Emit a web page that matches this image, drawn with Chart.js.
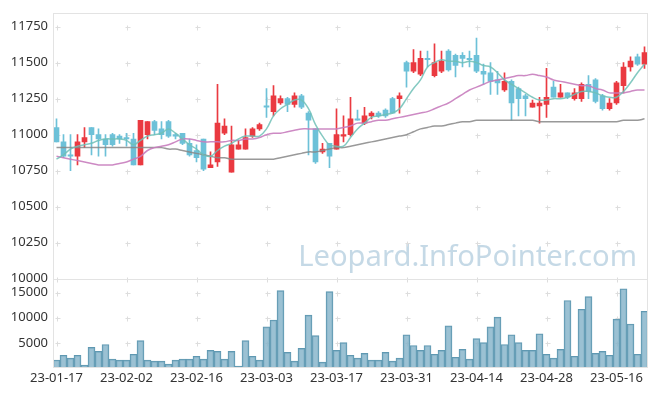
<!DOCTYPE html>
<html>
<head>
<meta charset="utf-8">
<script src="https://cdn.jsdelivr.net/npm/chart.js@4.4.0/dist/chart.umd.min.js"></script>
<style>
	html, body { margin: 0; padding: 0; background: #ffffff; }
</style>
</head>
<body>
<canvas id="chart" width="657" height="396"></canvas>
<script>
const dates = [
	"23-01-17", "23-01-18", "23-01-19", "23-01-20", "23-01-25", "23-01-26", "23-01-27", "23-01-30", "23-01-31", "23-02-01",
	"23-02-02", "23-02-03", "23-02-06", "23-02-07", "23-02-08", "23-02-09", "23-02-10", "23-02-13", "23-02-14", "23-02-15",
	"23-02-16", "23-02-17", "23-02-20", "23-02-21", "23-02-22", "23-02-23", "23-02-24", "23-02-27", "23-02-28", "23-03-02",
	"23-03-03", "23-03-06", "23-03-07", "23-03-08", "23-03-09", "23-03-10", "23-03-13", "23-03-14", "23-03-15", "23-03-16",
	"23-03-17", "23-03-20", "23-03-21", "23-03-22", "23-03-23", "23-03-24", "23-03-27", "23-03-28", "23-03-29", "23-03-30",
	"23-03-31", "23-04-03", "23-04-04", "23-04-05", "23-04-06", "23-04-07", "23-04-10", "23-04-11", "23-04-12", "23-04-13",
	"23-04-14", "23-04-17", "23-04-18", "23-04-19", "23-04-20", "23-04-21", "23-04-24", "23-04-25", "23-04-26", "23-04-27",
	"23-04-28", "23-05-02", "23-05-03", "23-05-04", "23-05-08", "23-05-09", "23-05-10", "23-05-11", "23-05-12", "23-05-15",
	"23-05-16", "23-05-17", "23-05-18", "23-05-19", "23-05-22"
];

const opens = [
	11050, 10950, 10860, 10850, 10950, 11050, 11000, 10970, 11000, 10990,
	10980, 10970, 10790, 11000, 11090, 11040, 11090, 11000, 11010, 10940,
	10890, 10970, 10770, 10810, 11010, 10740, 10900, 10900, 10990, 11040,
	11200, 11160, 11220, 11250, 11210, 11270, 11150, 11040, 10880, 10940,
	10900, 10990, 11000, 11110, 11080, 11130, 11150, 11170, 11250, 11250,
	11500, 11440, 11420, 11530, 11410, 11440, 11580, 11550, 11550, 11530,
	11550, 11440, 11430, 11380, 11310, 11370, 11320, 11270, 11190, 11200,
	11210, 11330, 11260, 11290, 11250, 11250, 11350, 11380, 11270, 11180,
	11220, 11340, 11470, 11540, 11490
];
const highs = [
	11110, 11000, 11000, 11000, 11050, 11050, 11040, 11000, 11010, 11000,
	11010, 11010, 11100, 11090, 11100, 11090, 11100, 11010, 11010, 10970,
	10930, 10970, 10880, 11350, 11110, 11060, 10960, 11040, 11050, 11080,
	11320, 11340, 11270, 11260, 11290, 11280, 11160, 11040, 10940, 10940,
	11180, 11130, 11260, 11170, 11190, 11160, 11160, 11180, 11260, 11290,
	11510, 11590, 11580, 11580, 11630, 11580, 11590, 11560, 11570, 11580,
	11670, 11490, 11500, 11440, 11430, 11380, 11330, 11280, 11240, 11260,
	11460, 11370, 11350, 11290, 11320, 11360, 11410, 11390, 11280, 11250,
	11370, 11500, 11540, 11560, 11610
];
const lows = [
	10950, 10840, 10750, 10790, 10910, 10860, 10850, 10850, 10920, 10940,
	10920, 10790, 10790, 10970, 11000, 10970, 10980, 10970, 10930, 10850,
	10810, 10750, 10770, 10780, 11000, 10740, 10900, 10900, 10980, 11030,
	11120, 11130, 11210, 11160, 11190, 11180, 10860, 10800, 10870, 10770,
	10900, 10950, 10990, 11100, 11070, 11110, 11120, 11120, 11150, 11150,
	11330, 11430, 11410, 11470, 11400, 11430, 11440, 11400, 11470, 11470,
	11430, 11350, 11280, 11280, 11300, 11100, 11130, 11130, 11190, 11080,
	11120, 11260, 11260, 11250, 11240, 11230, 11250, 11220, 11170, 11170,
	11210, 11290, 11440, 11480, 11460
];
const closes = [
	10950, 10850, 10850, 10950, 10980, 11000, 10970, 10930, 10930, 10970,
	10970, 10790, 11100, 11090, 11030, 11000, 10990, 10990, 10940, 10860,
	10840, 10760, 10790, 11080, 11060, 10930, 10930, 10980, 11040, 11070,
	11190, 11270, 11250, 11210, 11270, 11190, 11100, 10810, 10900, 10850,
	11000, 11000, 11110, 11100, 11130, 11150, 11130, 11130, 11150, 11270,
	11440, 11500, 11530, 11520, 11500, 11510, 11450, 11480, 11530, 11520,
	11440, 11420, 11370, 11360, 11370, 11220, 11250, 11250, 11220, 11220,
	11260, 11260, 11290, 11260, 11290, 11350, 11300, 11230, 11180, 11220,
	11360, 11470, 11510, 11490, 11570
];
const volumes = [
	1600, 2530, 1950, 2530, 580, 4090, 3310, 4670, 1750, 1560,
	1560, 2730, 5450, 1560, 1360, 1360, 780, 1560, 1750, 1750,
	2340, 1750, 3500, 3310, 1750, 3310, 390, 5450, 2340, 1560,
	8180, 9540, 15380, 3120, 1360, 3900, 10510, 6430, 1170, 15190,
	3500, 5060, 2530, 1950, 2920, 1560, 1560, 3120, 1360, 1950,
	6620, 4480, 3500, 4480, 2730, 3500, 8370, 2140, 3700, 1750,
	5840, 5060, 8180, 10120, 4670, 6620, 5060, 3500, 3500, 6810,
	2730, 1950, 3700, 13430, 2340, 11680, 14210, 2920, 3310, 2530,
	9730, 15770, 8760, 2730, 11290
];
// moving average lines
const ma5 = [
	10830, 10860, 10900, 10920, 10930, 10940, 10960, 10970, 10970, 10970,
	10960, 10930, 10960, 10990, 11000, 11010, 11040, 11010, 10970, 10930,
	10900, 10860, 10850, 10890, 10920, 10940, 10970, 10990, 10990, 10990,
	11040, 11130, 11180, 11210, 11240, 11240, 11180, 11070, 10990, 10930,
	10920, 10920, 10980, 11040, 11080, 11120, 11130, 11140, 11150, 11180,
	11250, 11320, 11380, 11470, 11500, 11520, 11510, 11510, 11500, 11510,
	11500, 11480, 11470, 11430, 11380, 11350, 11320, 11290, 11260, 11240,
	11240, 11250, 11250, 11260, 11280, 11300, 11300, 11290, 11270, 11260,
	11260, 11300, 11360, 11430, 11490
];
const ma20 = [
	10850, 10840, 10830, 10820, 10810, 10800, 10790, 10790, 10790, 10800,
	10810, 10830, 10850, 10890, 10910, 10920, 10930, 10950, 10970, 10970,
	10960, 10950, 10950, 10950, 10950, 10960, 10960, 10970, 10970, 10980,
	11000, 11010, 11010, 11020, 11030, 11040, 11040, 11040, 11040, 11040,
	11040, 11050, 11060, 11080, 11080, 11090, 11100, 11100, 11110, 11120,
	11130, 11140, 11150, 11160, 11180, 11200, 11220, 11250, 11280, 11310,
	11330, 11350, 11370, 11380, 11390, 11400, 11410, 11410, 11420, 11410,
	11400, 11380, 11370, 11360, 11350, 11340, 11340, 11320, 11310, 11290,
	11290, 11290, 11300, 11310, 11310
];
const ma60 = [
	10910, 10910, 10910, 10910, 10910, 10910, 10910, 10910, 10910, 10910,
	10910, 10910, 10910, 10910, 10910, 10910, 10900, 10900, 10890, 10880,
	10870, 10860, 10850, 10840, 10840, 10830, 10830, 10830, 10830, 10830,
	10830, 10830, 10840, 10850, 10860, 10870, 10880, 10880, 10890, 10900,
	10910, 10910, 10920, 10930, 10940, 10950, 10960, 10970, 10980, 10990,
	11000, 11020, 11040, 11050, 11060, 11060, 11070, 11080, 11090, 11090,
	11100, 11100, 11100, 11100, 11100, 11100, 11100, 11100, 11100, 11090,
	11090, 11090, 11090, 11090, 11090, 11090, 11090, 11090, 11090, 11090,
	11090, 11100, 11100, 11100, 11110
];
const priceTicks = [10000, 10250, 10500, 10750, 11000, 11250, 11500, 11750];
const volumeTicks = [5000, 10000, 15000];
const dateTickEvery = 10;

const upColor = "#ea3a41";
const downColor = "#6dc1d8";
const candleColors = closes.map((c, i) => c > opens[i] ? upColor : downColor);

const font = { family: "'Noto Sans', sans-serif", size: 13 };
const textColor = "#333333";
const frameColor = "#e3e3e3";

// faint crosses at grid intersections, panel frame and watermark
const decorations = {
	id: "decorations",
	beforeDatasetsDraw(chart) {
		const { ctx, scales } = chart;
		ctx.save();

		ctx.font = "32px 'Noto Sans', sans-serif";
		const text = "Leopard.InfoPointer.com";
		const size = 32 * 339 / ctx.measureText(text).width;
		ctx.font = `${size}px 'Noto Sans', sans-serif`;
		ctx.fillStyle = "rgba(150, 185, 210, 0.55)";
		ctx.textAlign = "right";
		ctx.textBaseline = "alphabetic";
		ctx.fillText(text, 637, scales.y.bottom - 13);

		ctx.strokeStyle = "#dddddd";
		ctx.lineWidth = 1;
		const ys = priceTicks.map(v => scales.y.getPixelForValue(v))
			.concat(volumeTicks.map(v => scales.vol.getPixelForValue(v)));
		for (let i = 0; i < dates.length; i += dateTickEvery) {
			const px = Math.round(scales.x.getPixelForValue(i)) + 0.5;
			for (const y of ys) {
				const py = Math.round(y) + 0.5;
				ctx.beginPath();
				ctx.moveTo(px - 2, py); ctx.lineTo(px + 3, py);
				ctx.moveTo(px, py - 2); ctx.lineTo(px, py + 3);
				ctx.stroke();
			}
		}
		ctx.restore();
	},
	afterDatasetsDraw(chart) {
		const { ctx, chartArea, scales } = chart;
		const l = Math.round(chartArea.left) + 0.5;
		const r = Math.round(chartArea.right) - 0.5;
		const t = Math.round(chartArea.top) + 0.5;
		const b = Math.round(chartArea.bottom) - 0.5;
		const mid = Math.round(scales.y.bottom) + 0.5;
		ctx.save();
		ctx.strokeStyle = frameColor;
		ctx.lineWidth = 1;
		ctx.strokeRect(l, t, r - l, b - t);
		ctx.beginPath();
		ctx.moveTo(l, mid); ctx.lineTo(r, mid);
		ctx.stroke();
		ctx.restore();
	}
};

new Chart(document.getElementById("chart"), {
	data: {
		labels: dates,
		datasets: [
			{
				type: "bar",
				label: "wick",
				data: lows.map((l, i) => [l, highs[i]]),
				backgroundColor: candleColors,
				yAxisID: "y",
				grouped: false,
				barThickness: 1,
				order: 2
			},
			{
				type: "bar",
				label: "body",
				data: opens.map((o, i) => [o, closes[i]]),
				backgroundColor: candleColors,
				yAxisID: "y",
				grouped: false,
				barThickness: 5,
				minBarLength: 1,
				order: 2
			},
			{
				type: "line",
				label: "MA5",
				data: ma5,
				borderColor: "rgba(110, 192, 182, 0.85)",
				borderWidth: 1.5,
				pointRadius: 0,
				tension: 0.4,
				yAxisID: "y",
				order: 1
			},
			{
				type: "line",
				label: "MA20",
				data: ma20,
				borderColor: "rgba(200, 125, 190, 0.9)",
				borderWidth: 1.5,
				pointRadius: 0,
				tension: 0.4,
				yAxisID: "y",
				order: 1
			},
			{
				type: "line",
				label: "MA60",
				data: ma60,
				borderColor: "rgba(135, 135, 135, 0.85)",
				borderWidth: 1.5,
				pointRadius: 0,
				tension: 0.4,
				yAxisID: "y",
				order: 1
			},
			{
				type: "bar",
				label: "volume",
				data: volumes,
				backgroundColor: "rgba(130, 178, 200, 0.8)",
				borderColor: "#5f98b1",
				borderWidth: 1,
				yAxisID: "vol",
				grouped: false,
				barPercentage: 1,
				categoryPercentage: 1,
				order: 3
			}
		]
	},
	options: {
		responsive: false,
		animation: false,
		devicePixelRatio: 1,
		layout: { padding: { top: 10, right: 9, left: 0, bottom: 0 } },
		plugins: {
			legend: { display: false },
			tooltip: { enabled: false }
		},
		scales: {
			x: {
				type: "category",
				offset: true,
				grid: { display: false, drawTicks: false },
				border: { display: false },
				ticks: {
					autoSkip: false,
					maxRotation: 0,
					padding: 2,
					font: font,
					color: textColor,
					callback: (value, index) => index % dateTickEvery === 0 ? dates[index] : ""
				},
				afterFit: scale => { scale.height = 28; }
			},
			vol: {
				type: "linear",
				position: "left",
				stack: "panes",
				stackWeight: 90,
				min: 0,
				max: 17760,
				grid: { display: false, drawTicks: false },
				border: { display: false },
				ticks: {
					autoSkip: false,
					padding: 5,
					font: font,
					color: textColor,
					callback: value => String(value)
				},
				afterBuildTicks: scale => { scale.ticks = volumeTicks.map(v => ({ value: v })); },
				afterFit: scale => { scale.width = 53; }
			},
			y: {
				type: "linear",
				position: "left",
				stack: "panes",
				stackWeight: 268,
				min: 10000,
				max: 11846,
				grid: { display: false, drawTicks: false },
				border: { display: false },
				ticks: {
					autoSkip: false,
					padding: 5,
					font: font,
					color: textColor,
					callback: value => String(value)
				},
				afterBuildTicks: scale => { scale.ticks = priceTicks.map(v => ({ value: v })); },
				afterFit: scale => { scale.width = 53; }
			}
		}
	},
	plugins: [decorations]
});
</script>
</body>
</html>
